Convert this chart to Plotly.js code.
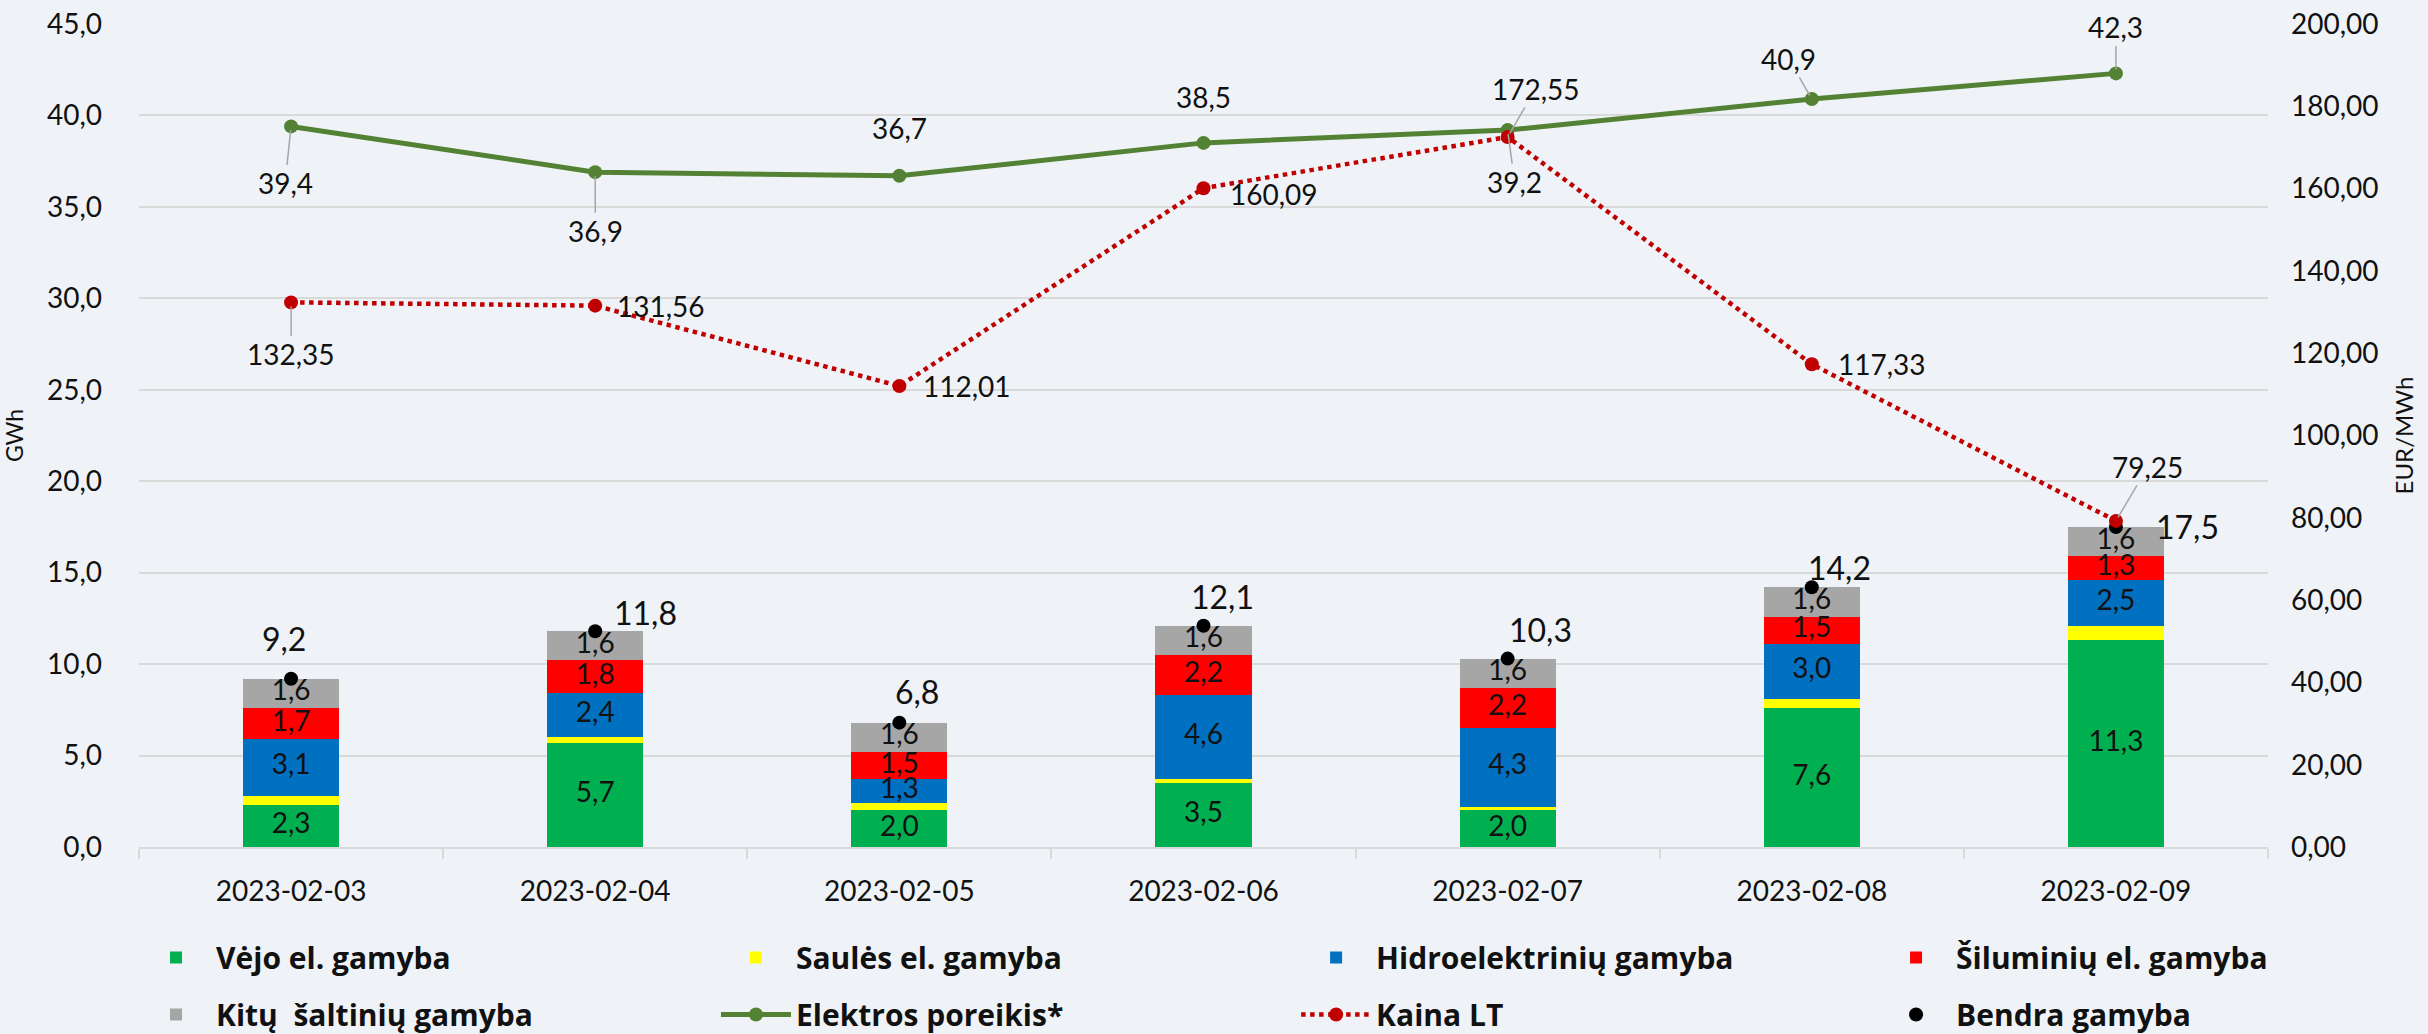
<!DOCTYPE html>
<html><head><meta charset="utf-8">
<script src="https://cdn.plot.ly/plotly-3.0.1.min.js"></script>
<style>html,body{margin:0;padding:0;background:#eff3f7;}#chart{width:2428px;height:1034px;}</style>
</head><body><div id="chart"></div>
<script>
const dates = ['2023-02-03','2023-02-04','2023-02-05','2023-02-06','2023-02-07','2023-02-08','2023-02-09'];
const vejo = [2.3, 5.7, 2.0, 3.5, 2.0, 7.6, 11.3];
const saules = [0.5, 0.3, 0.4, 0.2, 0.2, 0.5, 0.8];
const hidro = [3.1, 2.4, 1.3, 4.6, 4.3, 3.0, 2.5];
const silum = [1.7, 1.8, 1.5, 2.2, 2.2, 1.5, 1.3];
const kitu = [1.6, 1.6, 1.6, 1.6, 1.6, 1.6, 1.6];
const bendra = [9.2, 11.8, 6.8, 12.1, 10.3, 14.2, 17.5];
const poreikis = [39.4, 36.9, 36.7, 38.5, 39.2, 40.9, 42.3];
const kaina = [132.35, 131.56, 112.01, 160.09, 172.55, 117.33, 79.25];

const FONT = 'Lato, "Open Sans", sans-serif';
const LEGFONT = '"Open Sans", "Noto Sans", sans-serif';
const fmt = (v, d) => v.toFixed(d).replace('.', ',');

// legend column for each bar series (legend, legend2, legend3, legend4)
const barSeries = [
  {name: 'Vėjo el. gamyba', v: vejo, color: '#00b050', label: true, lg: 'legend'},
  {name: 'Saulės el. gamyba', v: saules, color: '#ffff00', label: false, lg: 'legend2'},
  {name: 'Hidroelektrinių gamyba', v: hidro, color: '#0070c0', label: true, lg: 'legend3'},
  {name: 'Šiluminių el. gamyba', v: silum, color: '#ff0000', label: true, lg: 'legend4'},
  {name: 'Kitų  šaltinių gamyba', v: kitu, color: '#a6a6a6', label: true, lg: 'legend'}
];

const traces = [];
const labelTraces = [];
let base = dates.map(() => 0);
barSeries.forEach((s) => {
  traces.push({
    type: 'bar', name: s.name, x: dates, y: s.v,
    marker: {color: s.color, line: {width: 0}},
    legend: s.lg, legendgroup: s.name,
    hoverinfo: 'skip'
  });
  if (s.label) {
    labelTraces.push({
      type: 'scatter', mode: 'text', x: dates,
      y: s.v.map((v, j) => base[j] + v / 2),
      text: s.v.map(v => fmt(v, 1)),
      textfont: {family: FONT, size: 28, color: '#111'},
      showlegend: false, hoverinfo: 'skip', cliponaxis: false
    });
  }
  base = base.map((b, j) => b + s.v[j]);
});

traces.push({
  type: 'scatter', mode: 'lines+markers', name: 'Elektros poreikis*', x: dates, y: poreikis,
  line: {color: '#548235', width: 5}, marker: {color: '#548235', size: 14},
  legend: 'legend2', legendgroup: 'por', hoverinfo: 'skip', cliponaxis: false
});
traces.push({
  type: 'scatter', mode: 'lines+markers', name: 'Kaina LT', x: dates, y: kaina, yaxis: 'y2',
  line: {color: '#c00000', width: 4.5, dash: 'dot'}, marker: {color: '#c00000', size: 14},
  legend: 'legend3', legendgroup: 'kaina', hoverinfo: 'skip', cliponaxis: false
});
traces.push({
  type: 'scatter', mode: 'markers', name: 'Bendra gamyba', x: dates, y: bendra,
  marker: {color: '#000', size: 14}, legend: 'legend4', legendgroup: 'bendra', hoverinfo: 'skip', cliponaxis: false
});

const allTraces = traces.slice(0, 5).concat(labelTraces, traces.slice(5));

// annotation offsets (pixels)
const porOff = [[-6, 57], [0, 59], [0, -48], [0, -46], [7, 52], [-23, -40], [0, -46]];
const porArrow = [true, true, false, false, true, true, true];
const kainaOff = [[0, 52, 'c'], [20, 0, 'l'], [22, 0, 'l'], [24, 6, 'l'], [28, -48, 'c'], [24, 0, 'l'], [32, -54, 'c']];
const bendOff = [[-7, -40], [50, -19], [18, -31], [19, -29], [33, -29], [28, -20], [72, 0]];

const ann = [];
const gray = '#a6a6a6';
const lblFont = {family: FONT, size: 28, color: '#111'};
dates.forEach((d, i) => {
  const o = porOff[i];
  if (porArrow[i]) {
    ann.push({x: d, y: poreikis[i], xref: 'x', yref: 'y', text: fmt(poreikis[i], 1),
      showarrow: true, arrowhead: 0, arrowwidth: 1.5, arrowcolor: gray, ax: o[0], ay: o[1], standoff: 4, font: lblFont});
  } else {
    ann.push({x: d, y: poreikis[i], xref: 'x', yref: 'y', text: fmt(poreikis[i], 1),
      showarrow: false, xshift: o[0], yshift: -o[1], font: lblFont});
  }
  const k = kainaOff[i];
  if (k[2] === 'l') {
    ann.push({x: d, y: kaina[i], xref: 'x', yref: 'y2', text: fmt(kaina[i], 2),
      showarrow: false, xanchor: 'left', xshift: k[0], yshift: -k[1], font: lblFont});
  } else {
    ann.push({x: d, y: kaina[i], xref: 'x', yref: 'y2', text: fmt(kaina[i], 2),
      showarrow: true, arrowhead: 0, arrowwidth: 1.5, arrowcolor: gray, ax: k[0], ay: k[1], standoff: 4, font: lblFont});
  }
  const b = bendOff[i];
  ann.push({x: d, y: bendra[i], xref: 'x', yref: 'y', text: fmt(bendra[i], 1),
    showarrow: false, xshift: b[0], yshift: -b[1], font: {family: FONT, size: 32, color: '#111'}});
});

function legendCol(x) {
  return {
    orientation: 'v', x: x, xanchor: 'left', y: -0.1689, yanchor: 'middle',
    bgcolor: 'rgba(0,0,0,0)', tracegroupgap: 15, traceorder: 'grouped', itemwidth: 70,
    font: {family: LEGFONT, size: 30, color: '#111', weight: 'bold'}
  };
}

const layout = {
  width: 2428, height: 1034,
  paper_bgcolor: '#eff3f7', plot_bgcolor: '#eff3f7',
  margin: {l: 139, r: 160, t: 24, b: 187, autoexpand: false},
  barmode: 'stack', bargap: 0.684,
  separators: ', ',
  font: {family: FONT, color: '#111'},
  showlegend: true,
  xaxis: {
    type: 'category', tickfont: {family: FONT, size: 28, color: '#111'},
    showline: true, linecolor: '#d9d9d9', linewidth: 2,
    ticks: 'outside', tickson: 'boundaries', ticklen: 10, tickcolor: '#d9d9d9', tickwidth: 2,
    ticklabelstandoff: 18, showgrid: false, zeroline: false
  },
  yaxis: {
    range: [0, 45], dtick: 5, tickformat: '.1f',
    tickfont: {family: FONT, size: 28, color: '#111'},
    showgrid: true, gridcolor: '#d9d9d9', gridwidth: 2, zeroline: false,
    ticklabelstandoff: 36,
    title: {text: 'GWh', font: {family: FONT, size: 23, color: '#111'}, standoff: 20}
  },
  yaxis2: {
    overlaying: 'y', side: 'right', range: [0, 200], dtick: 20, tickformat: '.2f',
    tickfont: {family: FONT, size: 28, color: '#111'},
    showgrid: false, zeroline: false, ticklabelstandoff: 22,
    title: {text: 'EUR/MWh', font: {family: FONT, size: 24, color: '#111'}, standoff: 18}
  },
  legend: legendCol(-0.0014),
  legend2: legendCol(0.2710),
  legend3: legendCol(0.5435),
  legend4: legendCol(0.8159),
  annotations: ann
};

Plotly.newPlot('chart', allTraces, layout, {displayModeBar: false, staticPlot: true});
</script></body></html>
